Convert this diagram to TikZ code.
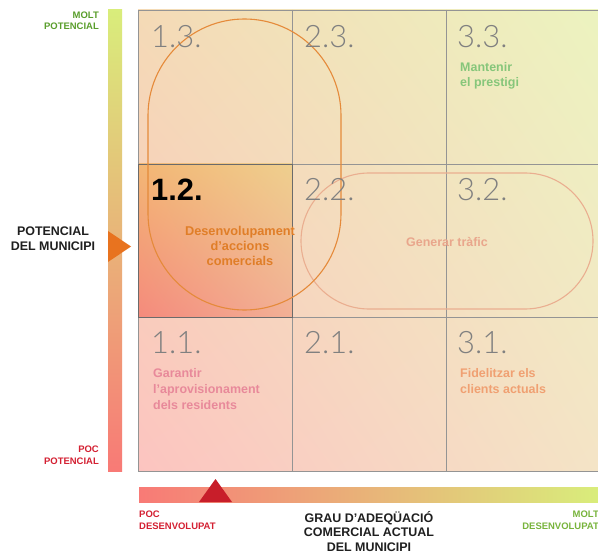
\documentclass[tikz,border=0pt]{standalone}
\usepackage{fontspec}
\usetikzlibrary{shadings}
\setmainfont{Liberation Sans}
\newfontfamily\numfont{Lato Light}
\begin{document}
\begin{tikzpicture}[x=1bp,y=1bp,
  lbl/.style={inner sep=0pt,font=\bfseries\fontsize{9.5}{11.5}\selectfont},
  axis/.style={inner sep=0pt,font=\bfseries\fontsize{12.5}{14.5}\selectfont,text=black!88},
  cellno/.style={inner sep=0pt,anchor=base west,font=\numfont\fontsize{31}{31}\selectfont,text=black!50},
  celltxt/.style={inner sep=0pt,font=\bfseries\fontsize{12.5}{16}\selectfont},
  gridline/.style={draw=black!42,line width=0.8bp},
  capsule/.style={line width=1.1bp}]
\definecolor{molt}{HTML}{5A9E2C}
\definecolor{moltb}{HTML}{78B43C}
\definecolor{poc}{HTML}{D42032}
\definecolor{arrowor}{HTML}{E8731F}
\definecolor{redmark}{HTML}{C81E2A}
\definecolor{bgUL}{HTML}{F4DAB6}
\definecolor{bgUR}{HTML}{ECF3BF}
\definecolor{bgLL}{HTML}{FCC4C0}
\definecolor{bgLR}{HTML}{F4E4C6}
\definecolor{hiUL}{HTML}{F3B674}
\definecolor{hiUR}{HTML}{EECF8E}
\definecolor{hiLL}{HTML}{F48A7C}
\definecolor{hiLR}{HTML}{F2B096}
\definecolor{barTop}{HTML}{D9ED7B}
\definecolor{barMid}{HTML}{F0B46A}
\definecolor{barLow}{HTML}{F87A76}
\definecolor{vcap}{HTML}{E58A3A}
\definecolor{hcap}{HTML}{EAAE90}
\definecolor{txtOr}{HTML}{E07E28}
\definecolor{txtGr}{HTML}{86C67A}
\definecolor{txtPk}{HTML}{E8899A}
\definecolor{txtSa}{HTML}{F0A072}
\definecolor{txtTr}{HTML}{E9A68C}
\useasboundingbox (0,0) rectangle (598,-555);
\fill[white] (0,0) rectangle (598,-555);

% matrix background
\shade[upper left=bgUL, upper right=bgUR, lower left=bgLL, lower right=bgLR]
  (138,-10) rectangle (600,-471);
% highlighted cell 1.2
\shade[upper left=hiUL, upper right=hiUR, lower left=hiLL, lower right=hiLR]
  (138,-164) rectangle (292,-317);

% grid
\draw[gridline] (138,-10) rectangle (600,-471);
\draw[gridline] (292,-10) -- (292,-471);
\draw[gridline] (446,-10) -- (446,-471);
\draw[gridline] (138,-164) -- (600,-164);
\draw[gridline] (138,-317) -- (600,-317);
\draw[draw=black!58,line width=0.9bp] (138,-164) rectangle (292,-317);

% strategy areas
\draw[capsule,draw=hcap,rounded corners=68bp] (301,-173) rectangle (593,-309);
\draw[capsule,draw=vcap,rounded corners=96.5bp] (148,-19) rectangle (341,-310);

% cell numbers
\node[cellno] (n13) at (151,-48) {1.3.};
\node[cellno] (n23) at (304,-48) {2.3.};
\node[cellno] (n33) at (457,-48) {3.3.};
\node[inner sep=0pt,anchor=base west,font=\bfseries\fontsize{31}{31}\selectfont,text=black] (n12) at (151,-201) {1.2.};
\node[cellno] (n22) at (304,-201) {2.2.};
\node[cellno] (n32) at (457,-201) {3.2.};
\node[cellno] (n11) at (151,-353) {1.1.};
\node[cellno] (n21) at (304,-353) {2.1.};
\node[cellno] (n31) at (457,-353) {3.1.};

% cell texts (multi-line nodes are placed by the baseline of their last line)
\node[celltxt,text=txtGr,anchor=base west,align=left] (t33) at (460,-87) {Mantenir\\el prestigi};
\node[celltxt,text=txtOr,anchor=base,align=center,font=\bfseries\fontsize{12.8}{15}\selectfont] (t12) at (240,-265) {Desenvolupament\\d’accions\\comercials};
\node[celltxt,text=txtTr,anchor=base] (t22) at (447,-246) {Generar tràfic};
\node[celltxt,text=txtPk,anchor=base west,align=left] (t11) at (153,-409) {Garantir\\l’aprovisionament\\dels residents};
\node[celltxt,text=txtSa,anchor=base west,align=left] (t31) at (460,-393) {Fidelitzar els\\clients actuals};

% vertical axis
\shade[top color=barTop, middle color=barMid, bottom color=barLow] (108,-10) rectangle (122,-471);
\fill[arrowor] (108,-231) -- (131,-246.5) -- (108,-262) -- cycle;
\node[lbl,text=molt,anchor=base east,align=right] (ymax) at (99,-29.5) {MOLT\\POTENCIAL};
\node[axis,anchor=base,align=center] (ytitle) at (53,-250) {POTENCIAL\\DEL MUNICIPI};
\node[lbl,text=poc,anchor=base east,align=right] (ymin) at (99,-464) {POC\\POTENCIAL};

% horizontal axis
\shade[left color=barLow, middle color=barMid, right color=barTop] (139,-487) rectangle (598,-502);
\fill[redmark] (199,-502) -- (215.5,-479) -- (232,-502) -- cycle;
\node[lbl,text=poc,anchor=base west,align=left] (xmin) at (139,-529) {POC\\DESENVOLUPAT};
\node[axis,anchor=base,align=center] (xtitle) at (369,-551) {GRAU D’ADEQÜACIÓ\\COMERCIAL ACTUAL\\DEL MUNICIPI};
\node[lbl,text=moltb,anchor=base east,align=right] (xmax) at (599,-529) {MOLT\\DESENVOLUPAT};
\end{tikzpicture}
\end{document}
